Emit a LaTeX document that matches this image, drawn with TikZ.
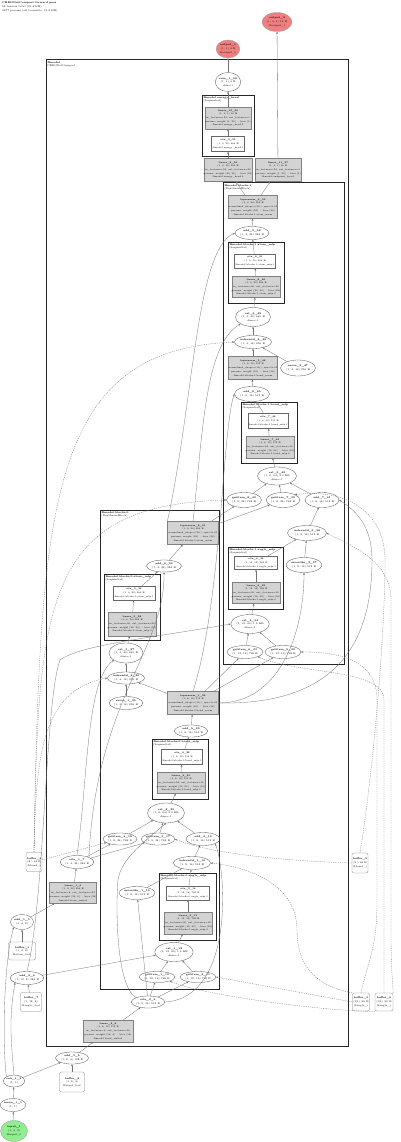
\documentclass[tikz,border=0pt]{standalone}
\usetikzlibrary{shapes.geometric,arrows.meta}
\definecolor{lgray}{HTML}{D3D3D3}
\definecolor{coral}{HTML}{F08080}
\definecolor{lgreen}{HTML}{90EE90}
\newcommand{\tfont}{\fontsize{2.5}{3.7}\selectfont}
\newcommand{\gfont}{\fontsize{2.25}{3.7}\selectfont}
\tikzset{
 nb/.style={align=center, font=\tfont, inner sep=0pt, line width=0.3pt},
 ell/.style={nb, ellipse, draw=black!70, minimum width=34pt, minimum height=13pt},
 gbox/.style={nb, font=\gfont, rectangle, fill=lgray, draw=black!50, minimum width=47pt, minimum height=22pt},
 wbox/.style={nb, font=\gfont, rectangle, fill=white, draw=black!60, minimum width=41pt, minimum height=14pt},
 buf/.style={nb, rectangle, rounded corners=2pt, draw=black!50, fill=white, minimum width=17pt, minimum height=19pt},
 onode/.style={ell, fill=coral, draw=black!40},
 inode/.style={ell, fill=lgreen, draw=black!40},
 clus/.style={draw=black!85, line width=1pt},
 sclus/.style={draw=black!85, line width=0.8pt},
 clab/.style={anchor=north west, align=left, font=\tfont, inner sep=0.6pt},
 edg/.style={draw=black!55, line width=0.3pt, -{Stealth[length=2.2pt,width=1.8pt]}},
 dedg/.style={edg, dash pattern=on 1.2pt off 1pt},
}
\begin{document}
\begin{tikzpicture}[x=1pt,y=-1pt]
\useasboundingbox (0,0) rectangle (400,1142);
% header
\node[anchor=north west, align=left, font=\tfont, inner sep=0pt] (header) at (2,2) {\textbf{CBRGNetCompact forward pass}\\58 tensors total (21.4 KB)\\3377 params (all trainable, 13.2 KB)};
% clusters
\draw[clus] (46,60) rectangle (348,1046);
\node[clab] (lab_model) at (46.5,60.5) {\textbf{@model}\\CBRGNetCompact};
\draw[sclus] (202,95) rectangle (254,156);
\node[clab] (lab_energy) at (202.5,95.5) {\textbf{@model.energy\_head}\\(Sequential)};
\draw[clus] (223,183) rectangle (344,664);
\node[clab] (lab_b1) at (223.5,183.5) {\textbf{@model.blocks.1}\\(DepthwiseBlock)};
\draw[sclus] (228,242) rectangle (284,303);
\node[clab] (lab_b1a) at (228.5,242.5) {\textbf{@model.blocks.1.atom\_mlp}\\(Sequential)};
\draw[sclus] (241,402) rectangle (297,463);
\node[clab] (lab_b1b) at (241.5,402.5) {\textbf{@model.blocks.1.bond\_mlp}\\(Sequential)};
\draw[sclus] (228,547) rectangle (283,609);
\node[clab] (lab_b1c) at (228.5,547.5) {\textbf{@model.blocks.1.angle\_mlp}\\(Sequential)};
\draw[clus] (100,510) rectangle (219,989);
\node[clab] (lab_b0) at (100.5,510.5) {\textbf{@model.blocks.0}\\(DepthwiseBlock)};
\draw[sclus] (104,574) rectangle (160,640);
\node[clab] (lab_b0a) at (104.5,574.5) {\textbf{@model.blocks.0.atom\_mlp}\\(Sequential)};
\draw[sclus] (152,739) rectangle (208,799);
\node[clab] (lab_b0b) at (152.5,739.5) {\textbf{@model.blocks.0.bond\_mlp}\\(Sequential)};
\draw[sclus] (159,873) rectangle (216,940);
\node[clab] (lab_b0c) at (159.5,873.5) {\textbf{@model.blocks.0.angle\_mlp}\\(Sequential)};

% top
\node[onode, minimum width=23pt, minimum height=18pt] (output_1) at (228,49) {\textbf{output\_1}\\(1, 1) 4 B\\@output\_0};
\node[onode, minimum width=30pt, minimum height=19pt] (output_2) at (277,22) {\textbf{output\_2}\\(1, 4, 1) 16 B\\@output\_1};
\node[ell, minimum width=24pt, minimum height=19pt] (sum_1_58) at (228,82) {\textbf{sum\_1\_58}\\(1, 1) 4 B\\dim=1};
\node[gbox, minimum width=43pt] (linear_10_56) at (228,118) {\textbf{linear\_10\_56}\\(1, 4, 1) 16 B\\in\_features=24, out\_features=1\\params: weight (1, 24) · bias (1)\\@model.energy\_head.2};
\node[wbox, minimum width=33pt, minimum height=15pt] (silu_9_55) at (228,144) {\textbf{silu\_9\_55}\\(1, 4, 24) 384 B\\@model.energy\_head.1};
\node[gbox, minimum width=48pt, minimum height=23pt] (linear_9_54) at (228,170) {\textbf{linear\_9\_54}\\(1, 4, 24) 384 B\\in\_features=24, out\_features=24\\params: weight (24, 24) · bias (24)\\@model.energy\_head.0};
\node[gbox, minimum width=43pt, minimum height=23pt] (linear_11_57) at (278,170) {\textbf{linear\_11\_57}\\(1, 4, 1) 16 B\\in\_features=24, out\_features=1\\params: weight (1, 24) · bias (1)\\@model.endpoint\_head};

% block 1
\node[gbox, minimum height=23pt] (layernorm_4_53) at (253,207) {\textbf{layernorm\_4\_53}\\(1, 4, 24) 384 B\\normalized\_shape=(24,), eps=1e-05\\params: weight (24) · bias (24)\\@model.blocks.1.atom\_norm};
\node[ell] (add_9_52) at (252,233) {\textbf{add\_9\_52}\\(1, 4, 24) 384 B};
\node[wbox] (silu_8_51) at (255,261) {\textbf{silu\_8\_51}\\(1, 4, 24) 384 B\\@model.blocks.1.atom\_mlp.1};
\node[gbox, minimum height=21pt] (linear_8_50) at (256,287) {\textbf{linear\_8\_50}\\(1, 4, 24) 384 B\\in\_features=40, out\_features=24\\params: weight (24, 40) · bias (24)\\@model.blocks.1.atom\_mlp.0};
\node[ell, minimum width=35pt, minimum height=19pt] (cat_6_49) at (253,317) {\textbf{cat\_6\_49}\\(1, 4, 40) 640 B\\dim=-1};
\node[ell, minimum width=33pt] (indexadd_4_48) at (253,342) {\textbf{indexadd\_4\_48}\\(1, 4, 16) 256 B};
\node[gbox, minimum width=49pt, minimum height=23pt] (layernorm_3_46) at (253,368) {\textbf{layernorm\_3\_46}\\(1, 8, 16) 512 B\\normalized\_shape=(16,), eps=1e-05\\params: weight (16) · bias (16)\\@model.blocks.1.bond\_norm};
\node[ell, minimum width=35pt, minimum height=16pt] (zeros_2_47) at (298,368) {\textbf{zeros\_2\_47}\\(1, 4, 16) 256 B};
\node[ell, minimum width=35pt, minimum height=15pt] (add_8_45) at (252,394) {\textbf{add\_8\_45}\\(1, 8, 16) 512 B};
\node[wbox, minimum width=40pt, minimum height=15pt] (silu_7_44) at (268,421) {\textbf{silu\_7\_44}\\(1, 8, 16) 512 B\\@model.blocks.1.bond\_mlp.1};
\node[gbox] (linear_7_43) at (270,447) {\textbf{linear\_7\_43}\\(1, 8, 16) 512 B\\in\_features=64, out\_features=16\\params: weight (16, 64) · bias (16)\\@model.blocks.1.bond\_mlp.0};
\node[ell, minimum width=39pt, minimum height=18pt] (cat_5_42) at (277,476) {\textbf{cat\_5\_42}\\(1, 8, 64) 2.0 KB\\dim=-1};
\node[ell, minimum width=35pt, minimum height=15pt] (getitem_8_40) at (244,500) {\textbf{getitem\_8\_40}\\(1, 8, 24) 768 B};
\node[ell, minimum width=33pt, minimum height=15pt] (getitem_7_39) at (283,500) {\textbf{getitem\_7\_39}\\(1, 8, 24) 768 B};
\node[ell, minimum width=34pt, minimum height=15pt] (add_7_41) at (322,500) {\textbf{add\_7\_41}\\(1, 8, 16) 512 B};
\node[ell, minimum width=39pt, minimum height=15pt] (indexadd_3_38) at (307,533) {\textbf{indexadd\_3\_38}\\(1, 8, 16) 512 B};
\node[wbox, minimum width=43pt, minimum height=13pt] (silu_6_36) at (256,563) {\textbf{silu\_6\_36}\\(1, 12, 16) 768 B\\@model.blocks.1.angle\_mlp.1};
\node[ell, minimum width=31pt, minimum height=15pt] (zeroslike_2_37) at (304,565) {\textbf{zeroslike\_2\_37}\\(1, 8, 16) 512 B};
\node[gbox, minimum width=46pt, minimum height=21pt] (linear_6_35) at (256,593) {\textbf{linear\_6\_35}\\(1, 12, 16) 768 B\\in\_features=40, out\_features=16\\params: weight (16, 40) · bias (16)\\@model.blocks.1.angle\_mlp.0};
\node[ell, minimum width=35pt, minimum height=19pt] (cat_4_34) at (250,624) {\textbf{cat\_4\_34}\\(1, 12, 40) 1.9 KB\\dim=-1};
\node[ell, minimum width=36pt] (getitem_6_33) at (245,652) {\textbf{getitem\_6\_33}\\(1, 12, 16) 768 B};
\node[ell] (getitem_5_32) at (283,652) {\textbf{getitem\_5\_32}\\(1, 12, 16) 768 B};

% block 0
\node[gbox, minimum width=51pt, minimum height=23pt] (layernorm_2_31) at (193,533) {\textbf{layernorm\_2\_31}\\(1, 4, 24) 384 B\\normalized\_shape=(24,), eps=1e-05\\params: weight (24) · bias (24)\\@model.blocks.0.atom\_norm};
\node[ell, minimum width=35pt, minimum height=12pt] (add_6_30) at (164,566) {\textbf{add\_6\_30}\\(1, 4, 24) 384 B};
\node[wbox, minimum width=42pt] (silu_5_29) at (134,593) {\textbf{silu\_5\_29}\\(1, 4, 24) 384 B\\@model.blocks.0.atom\_mlp.1};
\node[gbox, minimum width=48pt, minimum height=24pt] (linear_5_28) at (132,624) {\textbf{linear\_5\_28}\\(1, 4, 24) 384 B\\in\_features=40, out\_features=24\\params: weight (24, 40) · bias (24)\\@model.blocks.0.atom\_mlp.0};
\node[ell, minimum width=34pt, minimum height=20pt] (cat_3_27) at (126,653) {\textbf{cat\_3\_27}\\(1, 4, 40) 640 B\\dim=-1};
\node[ell, minimum width=35pt, minimum height=12pt] (indexadd_2_26) at (126,678) {\textbf{indexadd\_2\_26}\\(1, 4, 16) 256 B};
\node[ell, minimum width=33pt] (zeros_1_25) at (126,703) {\textbf{zeros\_1\_25}\\(1, 4, 16) 256 B};
\node[gbox, minimum width=51pt, minimum height=23pt] (layernorm_1_24) at (193,703) {\textbf{layernorm\_1\_24}\\(1, 8, 16) 512 B\\normalized\_shape=(16,), eps=1e-05\\params: weight (16) · bias (16)\\@model.blocks.0.bond\_norm};
\node[ell, minimum width=33pt, minimum height=12pt] (add_5_23) at (191,731) {\textbf{add\_5\_23}\\(1, 8, 16) 512 B};
\node[wbox, minimum height=15pt] (silu_4_22) at (182,757) {\textbf{silu\_4\_22}\\(1, 8, 16) 512 B\\@model.blocks.0.bond\_mlp.1};
\node[gbox, minimum height=21pt] (linear_4_21) at (181,783) {\textbf{linear\_4\_21}\\(1, 8, 16) 512 B\\in\_features=64, out\_features=16\\params: weight (16, 64) · bias (16)\\@model.blocks.0.bond\_mlp.0};
\node[ell, minimum width=37pt, minimum height=20pt] (cat_2_20) at (166,813) {\textbf{cat\_2\_20}\\(1, 8, 64) 2.0 KB\\dim=-1};
\node[ell, minimum width=34pt, minimum height=12pt] (getitem_4_18) at (120,839) {\textbf{getitem\_4\_18}\\(1, 8, 24) 768 B};
\node[ell, minimum width=33pt, minimum height=12pt] (getitem_3_17) at (158,839) {\textbf{getitem\_3\_17}\\(1, 8, 24) 768 B};
\node[ell, minimum width=34pt] (add_4_19) at (203,839) {\textbf{add\_4\_19}\\(1, 8, 16) 512 B};
\node[ell, minimum width=35pt] (indexadd_1_16) at (192,863) {\textbf{indexadd\_1\_16}\\(1, 8, 16) 512 B};
\node[wbox, minimum width=43pt] (silu_3_14) at (188,893) {\textbf{silu\_3\_14}\\(1, 12, 16) 768 B\\@model.blocks.0.angle\_mlp.1};
\node[ell, minimum width=35pt] (zeroslike_1_15) at (137,893) {\textbf{zeroslike\_1\_15}\\(1, 8, 16) 512 B};
\node[gbox, minimum width=46pt] (linear_3_13) at (188,923) {\textbf{linear\_3\_13}\\(1, 12, 16) 768 B\\in\_features=40, out\_features=16\\params: weight (16, 40) · bias (16)\\@model.blocks.0.angle\_mlp.0};
\node[ell, minimum width=35pt, minimum height=19pt] (cat_1_12) at (174,952) {\textbf{cat\_1\_12}\\(1, 12, 40) 1.9 KB\\dim=-1};
\node[ell, minimum width=31pt, minimum height=11pt] (getitem_1_10) at (157,977) {\textbf{getitem\_1\_10}\\(1, 12, 16) 768 B};
\node[ell, minimum width=35pt, minimum height=11pt] (getitem_2_11) at (198,977) {\textbf{getitem\_2\_11}\\(1, 12, 16) 768 B};

% embeddings
\node[ell, minimum width=32pt] (silu_1_7) at (77,862) {\textbf{silu\_1\_7}\\(1, 4, 24) 384 B};
\node[gbox, minimum width=46pt, minimum height=21pt] (linear_1_6) at (73,893) {\textbf{linear\_1\_6}\\(1, 4, 24) 384 B\\in\_features=8, out\_features=24\\params: weight (24, 8) · bias (24)\\@model.atom\_embed};
\node[ell, minimum width=33pt, minimum height=12pt] (silu_2_9) at (148,1002) {\textbf{silu\_2\_9}\\(1, 8, 16) 512 B};
\node[gbox, minimum width=50pt] (linear_2_8) at (108,1031) {\textbf{linear\_2\_8}\\(1, 8, 16) 512 B\\in\_features=4, out\_features=16\\params: weight (16, 4) · bias (16)\\@model.bond\_embed};

% outside left
\node[buf, minimum width=16pt] (buffer_4) at (34,862) {\textbf{buffer\_4}\\(8,) 64 B\\@bond\_i};
\node[ell, minimum width=23pt, minimum height=15pt] (add_1_3) at (22,922) {\textbf{add\_1\_3}\\(1, 4, 8)};
\node[buf, minimum width=27pt, minimum height=18pt] (buffer_1) at (22,951) {\textbf{buffer\_1}\\(1, 4, 8)\\@atom\_feat};
\node[ell, minimum width=31pt] (add_2_4) at (27,978) {\textbf{add\_2\_4}\\(1, 12, 8) 384 B};
\node[buf, minimum width=21pt] (buffer_7) at (31,1002) {\textbf{buffer\_7}\\(1, 12, 8)\\@angle\_feat};
\node[ell, minimum width=33pt, minimum height=12pt] (add_3_5) at (72,1058) {\textbf{add\_3\_5}\\(1, 8, 4) 128 B};
\node[buf, minimum width=25pt, minimum height=20pt] (buffer_2) at (72,1082) {\textbf{buffer\_2}\\(1, 8, 4)\\@bond\_feat};
\node[ell, minimum width=18pt, minimum height=12pt] (sub_1_2) at (14,1081) {\textbf{sub\_1\_2}\\(1, 1)};
\node[ell, minimum width=25pt] (mean_1_1) at (13,1105) {\textbf{mean\_1\_1}\\(1, 1)};
\node[inode, minimum width=27pt, minimum height=21pt] (input_1) at (14,1131) {\textbf{input\_1}\\(1, 4, 3)\\@input\_0};

% outside right
\node[buf, minimum width=16pt, minimum height=20pt] (buffer_5) at (360,863) {\textbf{buffer\_5}\\(8,) 64 B\\@bond\_j};
\node[buf, minimum height=18pt] (buffer_3) at (361,1002) {\textbf{buffer\_3}\\(12,) 96 B\\@angle\_i};
\node[buf, minimum width=18pt, minimum height=18pt] (buffer_6) at (384,1002) {\textbf{buffer\_6}\\(12,) 96 B\\@angle\_j};

% edges bottom
\draw[edg] (input_1) -- (mean_1_1);
\draw[edg] (mean_1_1) -- (sub_1_2);
\draw[edg] (sub_1_2) -- (add_3_5);
\draw[edg] (sub_1_2.north) to[out=95,in=-100] (add_2_4.south west);
\draw[edg] (sub_1_2.north west) .. controls (2,1040) and (4,960) .. (add_1_3.south west);
\draw[edg] (buffer_2) -- (add_3_5);
\draw[edg] (buffer_7) -- (add_2_4);
\draw[edg] (buffer_1) -- (add_1_3);
\draw[edg] (add_3_5) -- (linear_2_8);
\draw[edg] (linear_2_8) -- (silu_2_9);
\draw[edg] (add_1_3) -- (linear_1_6);
\draw[edg] (linear_1_6) -- (silu_1_7);
% block 0 edges
\draw[edg] (silu_2_9) -- (getitem_1_10);
\draw[edg] (silu_2_9) -- (getitem_2_11);
\draw[edg] (getitem_1_10) -- (cat_1_12);
\draw[edg] (getitem_2_11) -- (cat_1_12);
\draw[edg] (add_2_4) -- (cat_1_12);
\draw[edg] (cat_1_12) -- (linear_3_13);
\draw[edg] (linear_3_13) -- (silu_3_14);
\draw[edg] (silu_3_14) -- (indexadd_1_16);
\draw[edg] (zeroslike_1_15) -- (indexadd_1_16);
\draw[edg] (silu_2_9) -- (zeroslike_1_15);
\draw[edg] (silu_2_9.north west) .. controls (115,985) and (116,900) .. (118,880) .. controls (121,860) and (140,845) .. (cat_2_20.south);
\draw[edg] (indexadd_1_16) -- (add_4_19);
\draw[edg] (silu_2_9.east) .. controls (235,998) and (226,870) .. (add_4_19.south east);
\draw[edg] (silu_1_7) -- (getitem_4_18);
\draw[edg] (silu_1_7) -- (getitem_3_17);
\draw[edg] (getitem_4_18) -- (cat_2_20);
\draw[edg] (getitem_3_17) -- (cat_2_20);
\draw[edg] (add_4_19) -- (cat_2_20);
\draw[edg] (cat_2_20) -- (linear_4_21);
\draw[edg] (linear_4_21) -- (silu_4_22);
\draw[edg] (silu_4_22) -- (add_5_23);
\draw[edg] (add_5_23) -- (layernorm_1_24);
\draw[edg] (layernorm_1_24) -- (indexadd_2_26);
\draw[edg] (zeros_1_25) -- (indexadd_2_26);
\draw[edg] (indexadd_2_26) -- (cat_3_27);
\draw[edg] (silu_1_7.north) .. controls (88,780) and (86,680) .. (cat_3_27.south west);
\draw[edg] (cat_3_27) -- (linear_5_28);
\draw[edg] (linear_5_28) -- (silu_5_29);
\draw[edg] (silu_5_29) -- (add_6_30);
\draw[edg] (silu_1_7.north east) .. controls (96,700) and (165,650) .. (add_6_30.south);
\draw[edg] (add_6_30) -- (layernorm_2_31);
% block 1 edges
\draw[edg] (layernorm_1_24) -- (getitem_6_33);
\draw[edg] (layernorm_1_24) -- (getitem_5_32);
\draw[edg] (getitem_6_33) -- (cat_4_34);
\draw[edg] (getitem_5_32) -- (cat_4_34);
\draw[edg] (add_2_4.north) .. controls (45,900) and (45,700) .. (60,660) .. controls (80,645) and (150,638) .. (cat_4_34.west);
\draw[edg] (cat_4_34) -- (linear_6_35);
\draw[edg] (linear_6_35) -- (silu_6_36);
\draw[edg] (silu_6_36) -- (indexadd_3_38);
\draw[edg] (zeroslike_2_37) -- (indexadd_3_38);
\draw[edg] (layernorm_1_24.east) to[out=0,in=-90] (zeroslike_2_37.south);
\draw[edg] (indexadd_3_38) -- (add_7_41);
\draw[edg] (layernorm_1_24.east) .. controls (330,705) and (372,650) .. (372,560) .. controls (372,525) and (355,510) .. (add_7_41.east);
\draw[edg] (layernorm_2_31) -- (getitem_8_40);
\draw[edg] (layernorm_2_31) -- (getitem_7_39);
\draw[edg] (getitem_8_40) -- (cat_5_42);
\draw[edg] (getitem_7_39) -- (cat_5_42);
\draw[edg] (add_7_41) -- (cat_5_42);
\draw[edg] (cat_5_42) -- (linear_7_43);
\draw[edg] (linear_7_43) -- (silu_7_44);
\draw[edg] (silu_7_44) -- (add_8_45);
\draw[edg] (layernorm_1_24.north) .. controls (222,600) and (222,430) .. (add_8_45.west);
\draw[edg] (add_8_45) -- (layernorm_3_46);
\draw[edg] (layernorm_3_46) -- (indexadd_4_48);
\draw[edg] (zeros_2_47) -- (indexadd_4_48);
\draw[edg] (indexadd_4_48) -- (cat_6_49);
\draw[edg] (layernorm_2_31.north) .. controls (203,430) and (205,345) .. (cat_6_49.south west);
\draw[edg] (cat_6_49) -- (linear_8_50);
\draw[edg] (linear_8_50) -- (silu_8_51);
\draw[edg] (silu_8_51) -- (add_9_52);
\draw[edg] (layernorm_2_31.north west) .. controls (194,400) and (196,250) .. (add_9_52.west);
\draw[edg] (add_9_52) -- (layernorm_4_53);
\draw[edg] (layernorm_4_53) -- (linear_9_54);
\draw[edg] (layernorm_4_53) -- (linear_11_57);
\draw[edg] (linear_9_54) -- (silu_9_55);
\draw[edg] (silu_9_55) -- (linear_10_56);
\draw[edg] (linear_10_56) -- (sum_1_58);
\draw[edg] (sum_1_58) -- (output_1);
\draw[edg] (linear_11_57) -- (output_2);
% buffer index edges
\draw[dedg] (buffer_4) -- (getitem_4_18);
\draw[dedg] (buffer_4.north) .. controls (36,760) and (40,690) .. (indexadd_2_26.west);
\draw[dedg] (buffer_4.north) .. controls (38,600) and (45,505) .. (getitem_8_40.west);
\draw[dedg] (buffer_4.north) .. controls (40,500) and (50,350) .. (indexadd_4_48.west);
\draw[dedg] (buffer_5.west) .. controls (260,860) and (200,850) .. (getitem_3_17.east);
\draw[dedg] (buffer_5.north) .. controls (372,780) and (385,640) .. (385,560) .. controls (385,515) and (350,488) .. (getitem_7_39.north east);
\draw[dedg] (buffer_3.west) -- (getitem_2_11.east);
\draw[dedg] (buffer_6.south west) .. controls (330,1012) and (200,995) .. (getitem_1_10.south east);
\draw[dedg] (buffer_3.north west) .. controls (310,985) and (297,960) .. (297,930) .. controls (297,880) and (240,866) .. (indexadd_1_16.east);
\draw[dedg] (buffer_3.north) .. controls (368,960) and (377,950) .. (377,900) -- (377,700) .. controls (377,660) and (340,652) .. (getitem_5_32.east);
\draw[dedg] (buffer_6.north) .. controls (384,960) .. (384,900) -- (384,700) .. controls (384,668) and (300,675) .. (getitem_6_33.south east);
\draw[dedg] (buffer_6.north east) .. controls (391,960) .. (391,900) -- (391,600) .. controls (391,560) and (350,545) .. (indexadd_3_38.east);
\end{tikzpicture}
\end{document}
